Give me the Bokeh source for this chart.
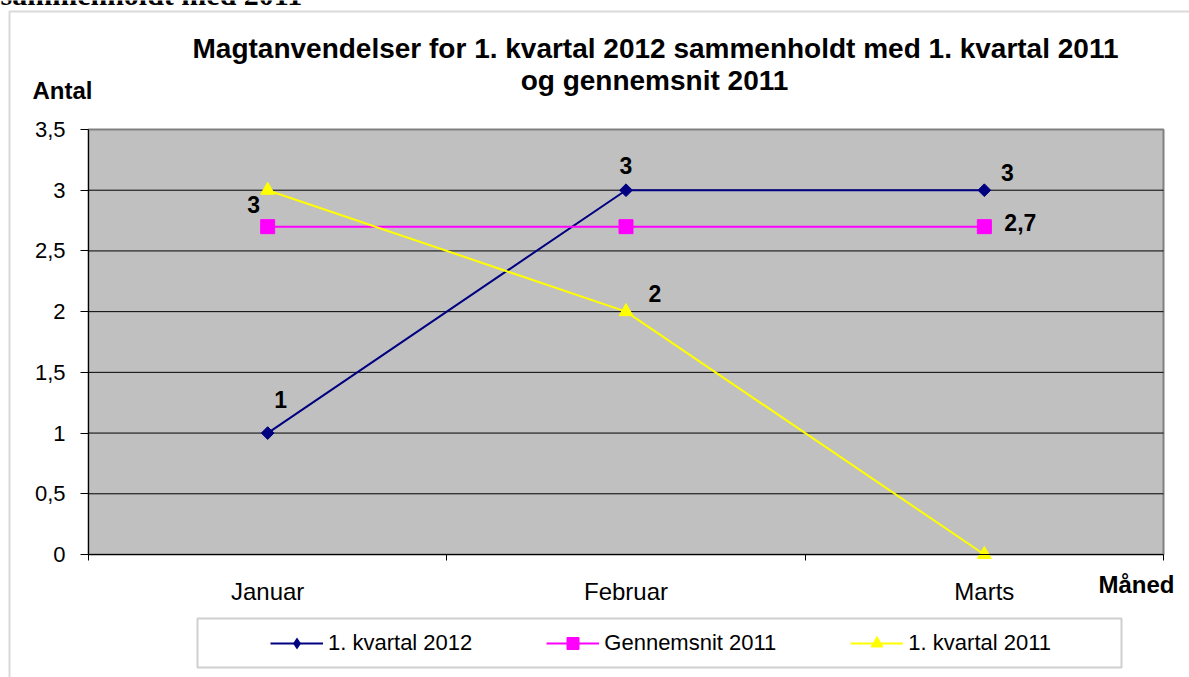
import math
from bokeh.plotting import figure
from bokeh.models import (Range1d, FixedTicker, CustomJSTickFormatter, Label, LabelSet,
                          ColumnDataSource, Legend, LegendItem, BoxAnnotation)
from bokeh.core.properties import value
from bokeh.embed import file_html
from bokeh.resources import INLINE

# ---- data ----
months = ["Januar", "Februar", "Marts"]
kvartal_2012 = [1, 3, 3]
gennemsnit_2011 = [2.7, 2.7, 2.7]
kvartal_2011 = [3, 2, 0]
y_ticks = [0, 0.5, 1, 1.5, 2, 2.5, 3, 3.5]
series_names = ["1. kvartal 2012", "Gennemsnit 2011", "1. kvartal 2011"]
title_lines = ["Magtanvendelser for 1. kvartal 2012 sammenholdt med 1. kvartal 2011",
               "og gennemsnit 2011"]
y_title = "Antal"
x_title = "Måned"
page_heading = "sammenholdt med 2011"

FONT = "Liberation Sans"
W, H = 1189, 677
# plot-area placement on the canvas (pixels)
PL, PR, PT, PB = 88, 1163, 129, 554

y_max = y_ticks[-1]
n_cat = len(months)
sx = (PR - PL) / n_cat
sy = (PB - PT) / y_max

x_pos = [i + 0.5 for i in range(n_cat)]
x_bounds = [float(i) for i in range(n_cat + 1)]

p = figure(width=W, height=H, output_backend="svg", toolbar_location=None,
           x_range=Range1d(-PL / sx, n_cat + (W - PR) / sx),
           y_range=Range1d(-(H - PB) / sy, y_max + PT / sy),
           min_border=0, min_border_left=0, min_border_right=0,
           min_border_top=0, min_border_bottom=0,
           background_fill_color="white", border_fill_color="white")
p.outline_line_color = None
p.grid.visible = False

# plot area and grid lines
p.quad(left=0, right=n_cat, bottom=0, top=y_max, fill_color="#C0C0C0",
       line_color="#808080", line_width=2)
grid_y = [t for t in y_ticks if 0 < t < y_max]
p.segment(x0=[0] * len(grid_y), x1=[n_cat] * len(grid_y), y0=grid_y, y1=grid_y,
          line_color="black", line_width=1)

# y axis
p.yaxis.fixed_location = 0
p.yaxis.bounds = (0, y_max)
p.yaxis.ticker = FixedTicker(ticks=y_ticks)
p.yaxis.formatter = CustomJSTickFormatter(code="return String(tick).replace('.', ',')")
p.yaxis.major_tick_out = 8
p.yaxis.major_tick_in = 0
p.yaxis.minor_tick_out = 0
p.yaxis.minor_tick_in = 0
p.yaxis.axis_line_color = "black"
p.yaxis.major_tick_line_color = "black"
p.yaxis.major_label_text_font = FONT
p.yaxis.major_label_text_font_size = "22px"
p.yaxis.major_label_text_color = "black"
p.yaxis.major_label_standoff = 15

# x axis: labels at category centres, minor ticks at category boundaries
p.xaxis.fixed_location = 0
p.xaxis.bounds = (0, n_cat)
p.xaxis.ticker = FixedTicker(ticks=x_pos, minor_ticks=x_bounds)
p.xaxis.formatter = CustomJSTickFormatter(args=dict(labels=months),
                                          code="return labels[Math.round(tick - 0.5)]")
p.xaxis.major_tick_out = 0
p.xaxis.major_tick_in = 0
p.xaxis.minor_tick_out = 6
p.xaxis.minor_tick_in = 0
p.xaxis.minor_tick_line_color = "black"
p.xaxis.axis_line_color = "black"
p.xaxis.major_label_text_font = FONT
p.xaxis.major_label_text_font_size = "24px"
p.xaxis.major_label_text_color = "black"
p.xaxis.major_label_standoff = 17

# series
styles = [
    dict(color="#000080", marker="square", size=9, angle=math.pi / 4, legend_marker="diamond"),
    dict(color="#FF00FF", marker="square", size=14, angle=0, legend_marker=None),
    dict(color="#FFFF00", marker="triangle", size=14, angle=0, legend_marker=None),
]
values = [kvartal_2012, gennemsnit_2011, kvartal_2011]
items = []
for name, vals, st in zip(series_names, values, styles):
    ln = p.line(x_pos, vals, line_color=st["color"], line_width=2)
    sc = p.scatter(x_pos, vals, marker=st["marker"], size=st["size"], angle=st["angle"],
                   fill_color=st["color"], line_color=st["color"])
    if st["legend_marker"]:
        # the legend ignores marker angles, so show the rotated square as a diamond there
        lg = p.scatter(x_pos, vals, marker=st["legend_marker"], size=0,
                       fill_color=st["color"], line_alpha=0)
        items.append(LegendItem(label=name, renderers=[ln, lg]))
    else:
        items.append(LegendItem(label=name, renderers=[ln, sc]))

# data labels (which points are labelled, and their pixel offsets)
def fmt(v):
    return f"{v:g}".replace(".", ",")

lab_series = [0, 0, 0, 1, 2, 2]
lab_index = [0, 1, 2, 2, 0, 1]
lab_dx = [13, 0, 23, 36, -14, 29]
lab_dy = [34, 25, 18, 4, -14, 18]
lab_src = ColumnDataSource(dict(
    x=[x_pos[i] for i in lab_index],
    y=[values[s][i] for s, i in zip(lab_series, lab_index)],
    text=[fmt(values[s][i]) for s, i in zip(lab_series, lab_index)],
    dx=lab_dx, dy=lab_dy))
p.add_layout(LabelSet(x="x", y="y", text="text", x_offset="dx", y_offset="dy", source=lab_src,
                      text_align="center", text_baseline="middle", text_font=value(FONT),
                      text_font_style="bold", text_font_size="23px", text_color="black"))

def screen_label(x, y, text, size, align="left", baseline="middle", bold=True, font=FONT):
    p.add_layout(Label(x=x, y=H - y, x_units="screen", y_units="screen", text=text,
                       text_align=align, text_baseline=baseline, text_font=font,
                       text_font_style="bold" if bold else "normal",
                       text_font_size=size, text_color="black"))

# titles (positions in canvas pixels from the top-left)
screen_label(655, 48, title_lines[0], "28px", align="center")
screen_label(654, 80, title_lines[1], "28px", align="center")
screen_label(32, 90, y_title, "24px")
screen_label(1098, 584, x_title, "24px")
screen_label(0, -6, page_heading, "30px", baseline="alphabetic", font="Liberation Serif")

# outer chart border and legend box
p.add_layout(BoxAnnotation(left=9, right=W + 100, top=H - 11, bottom=-100,
                           left_units="screen", right_units="screen",
                           top_units="screen", bottom_units="screen",
                           fill_alpha=0, line_color="#808080", line_width=2))
p.add_layout(BoxAnnotation(left=197, right=1121, top=H - 618, bottom=H - 667,
                           left_units="screen", right_units="screen",
                           top_units="screen", bottom_units="screen",
                           fill_alpha=0, line_color="#606060", line_width=2))

legend = Legend(items=items, orientation="horizontal", location=(260, 9),
                padding=10, spacing=74, glyph_width=53, glyph_height=30, label_standoff=5,
                margin=0, border_line_alpha=0, background_fill_alpha=0,
                label_text_font=FONT, label_text_font_size="22px", label_text_color="black")
p.add_layout(legend)

open("out.html", "w").write(file_html(p, INLINE))
